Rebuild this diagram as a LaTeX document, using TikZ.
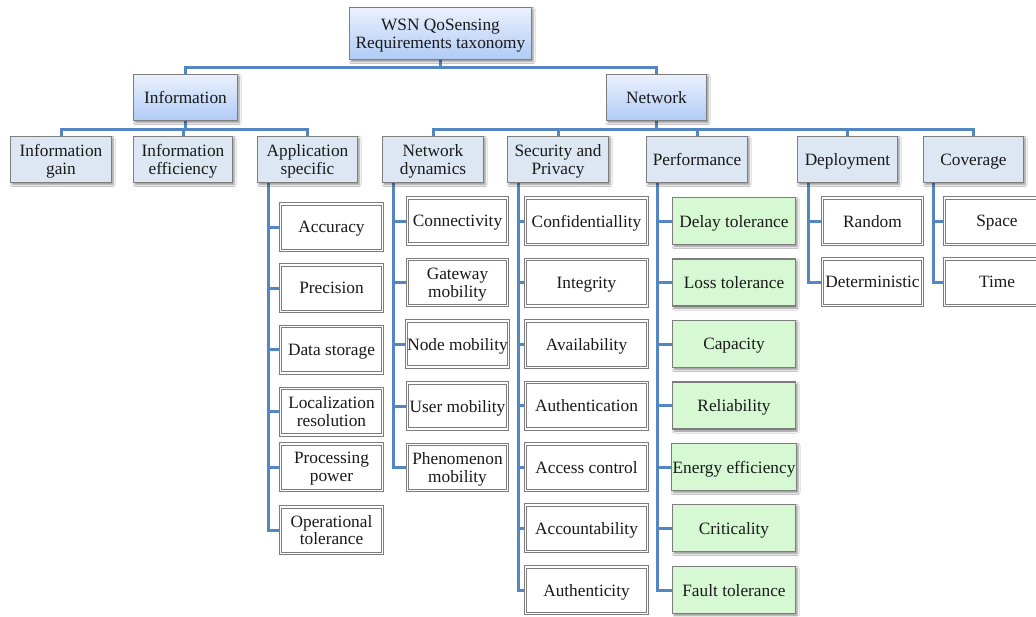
\documentclass[tikz,border=0pt]{standalone}
\usepackage{fontspec}
\setmainfont{Liberation Serif}
\usetikzlibrary{shadows.blur,backgrounds}

\definecolor{linkblue}{RGB}{84,134,196}
\definecolor{boxgray}{RGB}{125,125,125}
\definecolor{midfill}{RGB}{221,231,243}
\definecolor{leafgreen}{RGB}{214,249,212}
\definecolor{topblue}{RGB}{234,241,253}
\definecolor{botblue}{RGB}{176,203,245}
\definecolor{inkblack}{RGB}{25,25,25}

\tikzset{
  base/.style={rectangle, align=center, inner sep=1pt, text=inkblack,
    text depth=0pt, font=\fontsize{17.3}{17.8}\selectfont},
  softshadow/.style={blur shadow={shadow xshift=1.6pt, shadow yshift=-2pt,
    shadow blur steps=5, shadow blur radius=2pt, shadow opacity=45}},
  topbox/.style={base, draw=boxgray, line width=1.2pt,
    top color=topblue, bottom color=botblue, softshadow},
  midbox/.style={base, draw=boxgray, line width=1.2pt, fill=midfill, softshadow,
    minimum height=46pt},
  leafbox/.style={base, draw=boxgray, line width=1pt, double=white,
    double distance=1.5pt, minimum height=46.5pt},
  greenbox/.style={base, draw=boxgray, line width=1.2pt, fill=leafgreen,
    softshadow, minimum height=47pt},
  conn/.style={draw=linkblue, line width=3pt}
}

\begin{document}
\begin{tikzpicture}[x=1pt, y=-1pt]
\useasboundingbox (0,0) rectangle (1036,616);

% root and first level
\node[topbox, minimum width=182pt, minimum height=52pt] (root) at (440.5,33.5)
  {WSN QoSensing\\Requirements taxonomy};
\node[topbox, minimum width=104pt, minimum height=46pt] (info) at (185.5,97.5) {Information};
\node[topbox, minimum width=100pt, minimum height=46pt] (net) at (656.5,97.5) {Network};

% second level
\node[midbox, minimum width=101pt] (ig) at (61,159.5) {Information\\gain};
\node[midbox, minimum width=99pt] (ie) at (183,159.5) {Information\\efficiency};
\node[midbox, minimum width=100pt] (as) at (307.5,159.5) {Application\\specific};
\node[midbox, minimum width=101pt] (nd) at (433,159.5) {Network\\dynamics};
\node[midbox, minimum width=101pt] (sp) at (558,159.5) {Security and\\Privacy};
\node[midbox, minimum width=101pt] (pf) at (697,159.5) {Performance};
\node[midbox, minimum width=100pt] (dp) at (847.5,159.5) {Deployment};
\node[midbox, minimum width=100pt] (cv) at (973.5,159.5) {Coverage};

% application specific
\begin{scope}[every node/.style={leafbox, minimum width=102pt}]
\node (a1) at (331.5,227) {Accuracy};
\node (a2) at (331.5,288) {Precision};
\node (a3) at (331.5,349.5) {Data storage};
\node (a4) at (331.5,411.5) {Localization\\resolution};
\node (a5) at (331.5,467) {Processing\\power};
\node (a6) at (331.5,530) {Operational\\tolerance};
\end{scope}

% network dynamics
\begin{scope}[every node/.style={leafbox, minimum width=100pt, minimum height=46pt}]
\node (n1) at (457.5,221) {Connectivity};
\node (n2) at (457.5,282.5) {Gateway\\mobility};
\node (n3) at (457.5,344) {Node mobility};
\node (n4) at (457.5,406) {User mobility};
\node (n5) at (457.5,467.5) {Phenomenon\\mobility};
\end{scope}

% security and privacy
\begin{scope}[every node/.style={leafbox, minimum width=122pt}]
\node (s1) at (586.5,221) {Confidentiallity};
\node (s2) at (586.5,282.5) {Integrity};
\node (s3) at (586.5,344) {Availability};
\node (s4) at (586.5,405.5) {Authentication};
\node (s5) at (586.5,467) {Access control};
\node (s6) at (586.5,528) {Accountability};
\node (s7) at (586.5,590) {Authenticity};
\end{scope}

% performance
\begin{scope}[every node/.style={greenbox, minimum width=123pt}]
\node (p1) at (734,221) {Delay tolerance};
\node (p2) at (734,282.5) {Loss tolerance};
\node (p3) at (734,344) {Capacity};
\node (p4) at (734,405.5) {Reliability};
\node (p5) at (734,467) {Energy efficiency};
\node (p6) at (734,528) {Criticality};
\node (p7) at (734,590) {Fault tolerance};
\end{scope}

% deployment and coverage
\begin{scope}[every node/.style={leafbox, minimum width=100pt}]
\node (d1) at (872.5,221) {Random};
\node (d2) at (872.5,282) {Deterministic};
\node[minimum width=105pt] (c1) at (997,221) {Space};
\node[minimum width=105pt] (c2) at (997,282) {Time};
\end{scope}

% bus lines and trunks
\coordinate (bus0) at (0,67);
\coordinate (bus1) at (0,129.5);
\coordinate (tA) at (268,0);
\coordinate (tN) at (393.5,0);
\coordinate (tS) at (518,0);
\coordinate (tP) at (657,0);
\coordinate (tD) at (808,0);
\coordinate (tC) at (933,0);

\begin{pgfonlayer}{background}
\fill[white] (0,0) rectangle (1036,616);
\draw[conn] (root.south) -- (root.south |- bus0) -| (info.north);
\draw[conn] (root.south |- bus0) -| (net.north);

\draw[conn] (info.south) -- (info.south |- bus1) -| (ig.north);
\draw[conn] (info.south |- bus1) -| (ie.north);
\draw[conn] (info.south |- bus1) -| (as.north);

\draw[conn] (net.south) -- (net.south |- bus1) -| (nd.north);
\draw[conn] (net.south |- bus1) -| (sp.north);
\draw[conn] (net.south |- bus1) -| (pf.north);
\draw[conn] (net.south |- bus1) -| (dp.north);
\draw[conn] (net.south |- bus1) -| (cv.north);

\foreach \k in {a1,a2,a3,a4,a5,a6} \draw[conn] (as.south -| tA) |- (\k.west);
\foreach \k in {n1,n2,n3,n4,n5} \draw[conn] (nd.south -| tN) |- (\k.west);
\foreach \k in {s1,s2,s3,s4,s5,s6,s7} \draw[conn] (sp.south -| tS) |- (\k.west);
\foreach \k in {p1,p2,p3,p4,p5,p6,p7} \draw[conn] (pf.south -| tP) |- (\k.west);
\foreach \k in {d1,d2} \draw[conn] (dp.south -| tD) |- (\k.west);
\foreach \k in {c1,c2} \draw[conn] (cv.south -| tC) |- (\k.west);
\end{pgfonlayer}
\end{tikzpicture}
\end{document}
